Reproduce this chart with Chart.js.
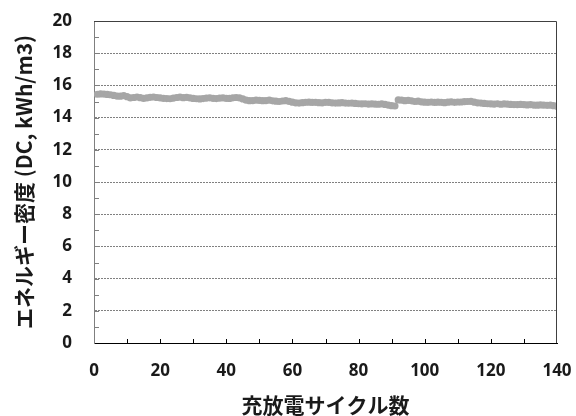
<!DOCTYPE html>
<html>
<head>
<meta charset="utf-8">
<script src="https://cdn.jsdelivr.net/npm/chart.js@4/dist/chart.umd.min.js"></script>
<style>
  html, body { margin: 0; padding: 0; background: #fff; }
  #wrap { width: 576px; height: 416px; }
</style>
</head>
<body>
<div id="wrap"><canvas id="energyChart"></canvas></div>
<script>
// cycle number (x) and DC energy density in kWh/m3 (y)
const cycles = [
  1, 2, 3, 4, 5, 6, 7, 8, 9, 10, 11, 12, 13, 14, 15, 16, 17, 18, 19, 20,
  21, 22, 23, 24, 25, 26, 27, 28, 29, 30, 31, 32, 33, 34, 35, 36, 37, 38, 39, 40,
  41, 42, 43, 44, 45, 46, 47, 48, 49, 50, 51, 52, 53, 54, 55, 56, 57, 58, 59, 60,
  61, 62, 63, 64, 65, 66, 67, 68, 69, 70, 71, 72, 73, 74, 75, 76, 77, 78, 79, 80,
  81, 82, 83, 84, 85, 86, 87, 88, 89, 90, 91, 92, 93, 94, 95, 96, 97, 98, 99, 100,
  101, 102, 103, 104, 105, 106, 107, 108, 109, 110, 111, 112, 113, 114, 115, 116, 117, 118, 119, 120,
  121, 122, 123, 124, 125, 126, 127, 128, 129, 130, 131, 132, 133, 134, 135, 136, 137, 138, 139, 140
];
const energyDensity = [
  15.45, 15.47, 15.46, 15.44, 15.42, 15.38, 15.34, 15.33, 15.36, 15.30,
  15.22, 15.25, 15.28, 15.24, 15.20, 15.22, 15.26, 15.28, 15.25, 15.22,
  15.20, 15.18, 15.17, 15.21, 15.25, 15.27, 15.24, 15.26, 15.22, 15.19,
  15.17, 15.16, 15.18, 15.21, 15.23, 15.20, 15.18, 15.21, 15.22, 15.20,
  15.19, 15.23, 15.25, 15.22, 15.16, 15.08, 15.05, 15.06, 15.08, 15.07,
  15.05, 15.06, 15.08, 15.04, 15.02, 15.00, 15.03, 15.05, 15.01, 14.96,
  14.92, 14.90, 14.93, 14.95, 14.96, 14.94, 14.95, 14.93, 14.92, 14.95,
  14.94, 14.92, 14.90, 14.91, 14.93, 14.90, 14.89, 14.90, 14.88, 14.86,
  14.85, 14.86, 14.84, 14.85, 14.84, 14.83, 14.85, 14.82, 14.78, 14.74,
  14.72, 15.10, 15.08, 15.05, 15.07, 15.04, 15.00, 15.02, 14.98, 14.96,
  14.95, 14.97, 14.94, 14.96, 14.95, 14.93, 14.96, 14.98, 14.95, 14.97,
  14.97, 14.99, 15.00, 15.01, 14.96, 14.92, 14.90, 14.88, 14.86, 14.85,
  14.84, 14.86, 14.83, 14.85, 14.84, 14.82, 14.81, 14.80, 14.82, 14.80,
  14.79, 14.80, 14.78, 14.77, 14.79, 14.78, 14.76, 14.77, 14.74, 14.70
];
const xTicks = [0, 20, 40, 60, 80, 100, 120, 140];
const yTicks = [0, 2, 4, 6, 8, 10, 12, 14, 16, 18, 20];
const xTitle = '充放電サイクル数';
const yTitle = 'エネルギー密度 (DC, kWh/m3)';

const labelFont = "'Open Sans', 'Noto Sans CJK JP', sans-serif";
const titleFont = "'Noto Sans CJK JP', 'Open Sans', sans-serif";

// closes the box on top/right and draws the short inner tick marks
const frameAndTicks = {
  id: 'frameAndTicks',
  afterDraw(chart) {
    const { ctx, chartArea: a, scales } = chart;
    ctx.save();
    ctx.lineWidth = 1;
    ctx.strokeStyle = '#404040';
    ctx.beginPath();
    ctx.moveTo(a.left, a.top + 0.5);
    ctx.lineTo(a.right - 0.5, a.top + 0.5);
    ctx.lineTo(a.right - 0.5, a.bottom);
    ctx.stroke();

    ctx.strokeStyle = '#7f7f7f';
    ctx.beginPath();
    for (let v = 1; v < 20; v++) {
      const y = Math.round(scales.y.getPixelForValue(v)) + 0.5;
      ctx.moveTo(a.left, y);
      ctx.lineTo(a.left + 5, y);
    }
    ctx.stroke();

    ctx.strokeStyle = '#000';
    ctx.beginPath();
    for (let v = 10; v < 140; v += 10) {
      const x = Math.round(scales.x.getPixelForValue(v)) + 0.5;
      ctx.moveTo(x, a.bottom);
      ctx.lineTo(x, a.bottom - 4);
    }
    ctx.stroke();
    ctx.restore();
  }
};

const points = cycles.map((c, i) => ({ x: c, y: energyDensity[i] }));

new Chart(document.getElementById('energyChart'), {
  type: 'scatter',
  data: {
    datasets: [{
      data: points,
      backgroundColor: '#a6a6a6',
      borderWidth: 0,
      pointRadius: 3.6,
      showLine: false
    }]
  },
  options: {
    responsive: true,
    maintainAspectRatio: false,
    animation: false,
    layout: { padding: { left: 0, right: 19, top: 21, bottom: 0 } },
    plugins: { legend: { display: false }, tooltip: { enabled: false } },
    scales: {
      x: {
        type: 'linear',
        min: 0,
        max: 140,
        afterBuildTicks: s => { s.ticks = xTicks.map(v => ({ value: v })); },
        afterFit: s => { s.height = 73; s.paddingLeft = 0; s.paddingRight = 0; },
        grid: { display: false, drawTicks: false },
        border: { display: true, color: '#000', width: 1 },
        ticks: {
          padding: 18,
          color: '#1a1a1a',
          font: { family: labelFont, size: 17, weight: 'bold' },
          maxRotation: 0
        },
        title: {
          display: true,
          text: xTitle,
          color: '#1a1a1a',
          font: { family: titleFont, size: 21, weight: 'bold', lineHeight: 1 },
          padding: { top: 0, bottom: 0 }
        }
      },
      y: {
        min: 0,
        max: 20,
        afterBuildTicks: s => { s.ticks = yTicks.map(v => ({ value: v })); },
        afterFit: s => { s.width = 94; s.paddingTop = 0; s.paddingBottom = 0; },
        grid: {
          drawTicks: false,
          color: ctx => (ctx.tick && (ctx.tick.value === 0 || ctx.tick.value === 20)) ? 'rgba(0,0,0,0)' : '#808080',
          lineWidth: 1
        },
        border: { display: true, color: '#7f7f7f', width: 1, dash: [2, 1] },
        ticks: {
          padding: 22,
          color: '#1a1a1a',
          font: { family: labelFont, size: 17, weight: 'bold' }
        },
        title: {
          display: true,
          text: yTitle,
          color: '#1a1a1a',
          font: { family: titleFont, size: 21, weight: 'bold', lineHeight: 1 },
          padding: { top: 14, bottom: 0 }
        }
      }
    }
  },
  plugins: [frameAndTicks]
});
</script>
</body>
</html>
